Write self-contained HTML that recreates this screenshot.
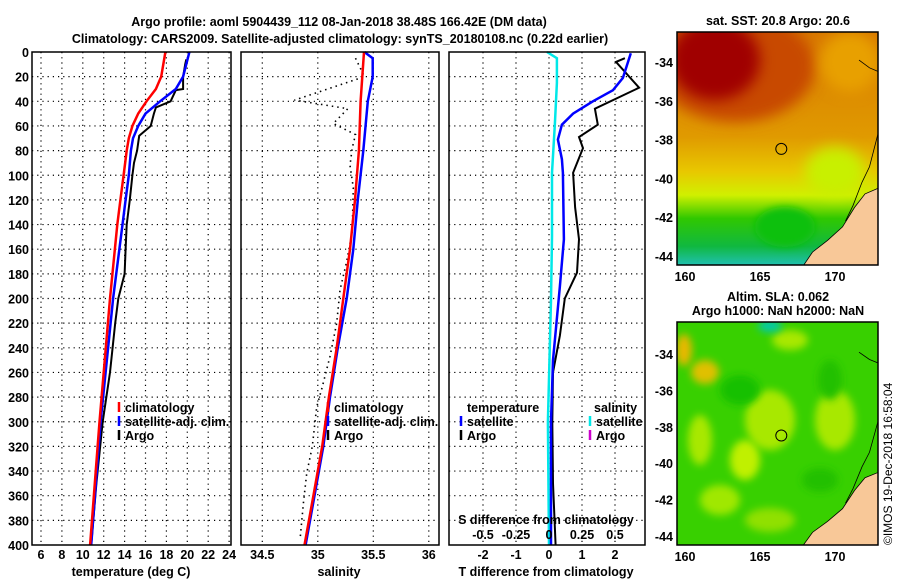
<!DOCTYPE html>
<html><head><meta charset="utf-8"><style>
body{margin:0;background:#fff;}
svg{display:block;font-family:"Liberation Sans",Arial,sans-serif;}
.t{font-weight:bold;font-size:12.5px;fill:#000}
</style></head><body>
<svg id="fig" width="900" height="580" viewBox="0 0 900 580" xmlns="http://www.w3.org/2000/svg">
<defs>
<filter id="bl" x="-50%" y="-50%" width="200%" height="200%"><feGaussianBlur stdDeviation="7"/></filter>
<filter id="bl2" x="-50%" y="-50%" width="200%" height="200%"><feGaussianBlur stdDeviation="4"/></filter>
<clipPath id="c1"><rect x="677" y="32" width="201" height="233"/></clipPath>
<clipPath id="c2"><rect x="677" y="322" width="201" height="223"/></clipPath>
<linearGradient id="sstg" x1="0" y1="0" x2="0" y2="1">
<stop offset="0" stop-color="#d87800"/><stop offset="0.45" stop-color="#e09a00"/>
<stop offset="0.6" stop-color="#e8c800"/><stop offset="0.7" stop-color="#d0f000"/>
<stop offset="0.8" stop-color="#30c800"/><stop offset="0.92" stop-color="#10b840"/>
<stop offset="1" stop-color="#20c0b0"/></linearGradient>
</defs>
<text class="t" x="339" y="26" text-anchor="middle" font-size="14">Argo profile: aoml 5904439_112 08-Jan-2018 38.48S 166.42E (DM data)</text>
<text class="t" x="340" y="43" text-anchor="middle" font-size="14">Climatology: CARS2009. Satellite-adjusted climatology: synTS_20180108.nc (0.22d earlier)</text>
<g id="plots"></g>
<g id="maps"></g>
<text x="892" y="545" transform="rotate(-90 892 545)" font-size="12">©IMOS 19-Dec-2018 16:58:04</text>
</svg>
<script>
// ---- data ----
const depthTicks=[0,20,40,60,80,100,120,140,160,180,200,220,240,260,280,300,320,340,360,380,400];
const tempTicks=[6,8,10,12,14,16,18,20,22,24];
const salTicks=[34.5,35,35.5,36];
const salTickLabels=["34.5","35","35.5","36"];
const dtTicks=[-2,-1,0,1,2];
const dsTickLabels=["-0.5","-0.25","0","0.25","0.5"];
const dsTicks=[-0.5,-0.25,0,0.25,0.5];
const climTDepth=[0,20,30,40,50,60,70,80,100,120,140,200,300,400];
const climT=[17.9,17.5,17.0,16.1,15.3,14.75,14.4,14.2,13.9,13.6,13.3,12.6,11.6,10.7];
const satTDepth=[0,20,30,40,50,60,70,80,100,120,140,200,300,400];
const satT=[20.2,19.6,18.9,17.4,16.0,15.3,14.8,14.6,14.4,14.1,13.8,12.9,11.7,10.8];
const argoDepth=[6,10,20,30,31,40,45,50,60,68,80,90,100,120,140,160,180,200,220,260,300,350,400];
const argoT=[19.9,19.8,19.6,19.6,18.9,18.4,17.0,16.8,16.5,15.4,15.2,14.9,14.75,14.5,14.2,14.1,14.0,13.4,13.1,12.6,11.9,11.3,10.8];
const climSDepth=[0,40,80,120,160,200,240,280,320,360,400];
const climS=[35.416,35.386,35.37,35.335,35.29,35.23,35.17,35.10,35.04,34.96,34.88];
const satSDepth=[0,5,20,40,80,120,160,200,240,280,320,360,400];
const satS=[35.42,35.495,35.495,35.45,35.41,35.36,35.32,35.26,35.18,35.11,35.05,34.97,34.89];
const argoSDepth=[5,20,39,46,58,67,78,92,110,146,170,193,220,247,272,288,320,342,366,396];
const argoS=[35.34,35.42,34.79,35.27,35.14,35.34,35.31,35.29,35.32,35.31,35.26,35.2,35.17,35.11,35.04,34.99,34.95,34.9,34.87,34.84];
const dTDepth=[5,8,29,46,59,69,78,98,126,152,179,200,230,260,300,350,400];
const argoDT=[2.3,2.03,2.73,1.39,1.48,0.91,1.03,0.73,0.79,0.91,0.85,0.48,0.33,0.12,0.1,0.12,0.2];
const satDTDepth=[1,21,31,40,50,59,71,87,98,152,190,250,300,400];
const satDT=[2.48,2.24,1.94,1.33,0.73,0.39,0.27,0.39,0.42,0.45,0.33,0.12,0.06,0.06];
const dSDepth=[0,5,25,58,98,150,201,300,400];
const satDS=[-0.015,0.06,0.06,0.045,0.023,0.023,0.015,-0.008,0.0];
const latTicks=[-34,-36,-38,-40,-42,-44];
const lonTicks=[160,165,170];
const argoLon=[166.42], argoLat=[-38.48];

// ---- scales ----
const Y0=52,Y1=545;
const yD=d=>Y0+d*(Y1-Y0)/400;
const xT=t=>41+(t-6)*10.45;
const xS=s=>262.3+(s-34.5)*111;
const xDT=v=>549+v*33;
const xDS=v=>549+v*132;
const mx=lon=>685+(lon-160)*15;
const my1=lat=>62+(-34-lat)*19.4;
const my2=lat=>354+(-34-lat)*18.2;
const NS="http://www.w3.org/2000/svg";
function mk(tag,attrs,parent){const e=document.createElementNS(NS,tag);for(const k in attrs)e.setAttribute(k,attrs[k]);parent.appendChild(e);return e;}
const P=document.getElementById('plots');

function panel(name,x0,x1){
  const g=mk('g',{},P);
  
  
  mk('rect',{x:x0,y:Y0,width:x1-x0,height:Y1-Y0,fill:'#fff'},g);
  depthTicks.forEach(d=>{if(d>0&&d<400)mk('line',{x1:x0,x2:x1,y1:yD(d),y2:yD(d),stroke:'#000','stroke-width':1.2,'stroke-dasharray':'1.2 4'},g);});
  return g;
}
function vgrid(g,xs){xs.forEach(x=>mk('line',{x1:x,x2:x,y1:Y0,y2:Y1,stroke:'#000','stroke-width':1.2,'stroke-dasharray':'1.2 4'},g));}
function border(g,x0,x1){mk('rect',{x:x0,y:Y0,width:x1-x0,height:Y1-Y0,fill:'none',stroke:'#000','stroke-width':1.5},g);}
function line(g,xs,ds,fx,col,w,name,dash){
  const pts=xs.map((v,i)=>fx(v).toFixed(1)+','+yD(ds[i]).toFixed(1)).join(' ');
  const e=mk('polyline',{points:pts,fill:'none',stroke:col,'stroke-width':w},g);
  if(dash)e.setAttribute('stroke-dasharray',dash);
  
  
}
function txt(g,x,y,s,name,anchor,size){const e=mk('text',{x:x,y:y,class:'t','text-anchor':anchor||'middle'},g);if(size)e.setAttribute('font-size',size);e.textContent=s;
  
  return e;}
function legend(g,x,y,col,label,name){mk('line',{x1:x,x2:x,y1:y-10,y2:y,stroke:col,'stroke-width':2.5},g);txt(g,x+6,y,label,name,'start');}

// panel 1
const g1=panel('temperature-panel',32,231);
vgrid(g1,tempTicks.map(xT));
line(g1,argoT,argoDepth,xT,'#000',2,'argo-temperature-line');
line(g1,satT,satTDepth,xT,'#0000ff',2.5,'satellite-temperature-line');
line(g1,climT,climTDepth,xT,'#ff0000',2.5,'climatology-temperature-line');
border(g1,32,231);
depthTicks.forEach(d=>txt(g1,29,yD(d)+5,String(d),'depth-tick-label','end'));
tempTicks.forEach(t=>txt(g1,xT(t),559,String(t),'temperature-tick-label'));
txt(g1,131,576,'temperature (deg C)','x-axis-title-temperature');
legend(g1,119,412,'#ff0000','climatology','legend-climatology');
legend(g1,119,426,'#0000ff','satellite-adj. clim.','legend-satellite');
legend(g1,119,440,'#000','Argo','legend-argo');

// panel 2
const g2=panel('salinity-panel',241,439);
vgrid(g2,salTicks.map(xS));
line(g2,argoS,argoSDepth,xS,'#000',1.6,'argo-salinity-line','1.5 4');
line(g2,satS,satSDepth,xS,'#0000ff',2.5,'satellite-salinity-line');
line(g2,climS,climSDepth,xS,'#ff0000',2.5,'climatology-salinity-line');
border(g2,241,439);
salTicks.forEach((s,i)=>txt(g2,xS(s),559,salTickLabels[i],'salinity-tick-label'));
txt(g2,339,576,'salinity','x-axis-title-salinity');
legend(g2,328,412,'#ff0000','climatology','legend-climatology-s');
legend(g2,328,426,'#0000ff','satellite-adj. clim.','legend-satellite-s');
legend(g2,328,440,'#000','Argo','legend-argo-s');

// panel 3
const g3=panel('difference-panel',449,645);
vgrid(g3,dtTicks.map(xDT));
line(g3,satDS,dSDepth,xDS,'#00e8e8',2.5,'satellite-salinity-diff-line');
line(g3,argoDT,dTDepth,xDT,'#000',2,'argo-temperature-diff-line');
line(g3,satDT,satDTDepth,xDT,'#0000ff',2.5,'satellite-temperature-diff-line');
border(g3,449,645);
dtTicks.forEach(v=>txt(g3,xDT(v),559,String(v),'t-diff-tick-label'));
dsTicks.forEach((v,i)=>txt(g3,xDS(v),539,dsTickLabels[i],'s-diff-tick-label'));
txt(g3,546,524,'S difference from climatology','s-diff-axis-title');
txt(g3,546,576,'T difference from climatology','t-diff-axis-title');
txt(g3,467,412,'temperature','legend-temperature-header','start');
legend(g3,461,426,'#0000ff','satellite','legend-t-satellite');
legend(g3,461,440,'#000','Argo','legend-t-argo');
txt(g3,594,412,'salinity','legend-salinity-header','start');
legend(g3,590,426,'#00e8e8','satellite','legend-s-satellite');
legend(g3,590,440,'#cc00cc','Argo','legend-s-argo');

// maps
const M=document.getElementById('maps');
const landLon=[172.9,172.0,171.3,170.5,169.5,168.5,167.8];
const landLat=[-40.5,-40.8,-41.5,-42.5,-43.2,-43.8,-44.6];
function map(name,yTop,h,my,clip,isSST,title){
  const g=mk('g',{},M);
  
  
  const c=mk('g',{'clip-path':'url(#'+clip+')'},g);
  if(isSST){
    mk('rect',{x:677,y:yTop,width:201,height:h,fill:'url(#sstg)'},c);
    mk('ellipse',{cx:735,cy:yTop+35,rx:80,ry:55,fill:'#c84800',filter:'url(#bl)'},c);
    mk('ellipse',{cx:715,cy:yTop+28,rx:45,ry:40,fill:'#a00000',filter:'url(#bl)'},c);
    mk('ellipse',{cx:850,cy:yTop+30,rx:30,ry:30,fill:'#e8a000',filter:'url(#bl)'},c);
    mk('ellipse',{cx:785,cy:yTop+195,rx:30,ry:20,fill:'#10c010',filter:'url(#bl2)'},c);
    mk('ellipse',{cx:835,cy:yTop+140,rx:30,ry:25,fill:'#c8f000',filter:'url(#bl)'},c);
  } else {
    mk('rect',{x:677,y:yTop,width:201,height:h,fill:'#38d000'},c);
    [[684,350,8,16,'#e8b800'],[705,372,14,12,'#e0c000'],[790,340,18,10,'#a8e800'],[770,420,25,30,'#a8e800'],[835,420,20,30,'#a8e800'],[745,460,15,20,'#c0f000'],[720,500,20,15,'#a0e800'],[770,520,25,12,'#90e000'],[830,380,12,20,'#20c000'],[740,390,20,15,'#18c000'],[770,326,12,6,'#00c8b0'],[700,440,12,25,'#a8e800'],[820,480,18,12,'#20c000']].forEach(b=>mk('ellipse',{cx:b[0],cy:b[1],rx:b[2],ry:b[3],fill:b[4],filter:'url(#bl2)'},c));
  }
  let pts=landLon.map((l,i)=>mx(l)+','+my(landLat[i])).join(' ')+' 878,'+(yTop+h)+' 878,'+my(-40.5);
  mk('polygon',{points:pts,fill:'#f8c898',stroke:'#000','stroke-width':0.8},c);
  mk('polyline',{points:[mx(172.9)+','+my(-37.6),mx(172.3)+','+my(-39.4),mx(171.8)+','+my(-40.2),mx(171.2)+','+my(-41.4),mx(170.7)+','+my(-42.2)].join(' '),fill:'none',stroke:'#000','stroke-width':0.8},c);
  mk('polyline',{points:[mx(171.6)+','+my(-33.9),mx(172.3)+','+my(-34.3),mx(172.9)+','+my(-34.5)].join(' '),fill:'none',stroke:'#000','stroke-width':0.8},c);
  const ci=mk('circle',{cx:mx(argoLon[0]),cy:my(argoLat[0]),r:5.5,fill:'none',stroke:'#000','stroke-width':1},g);
  
  
  mk('rect',{x:677,y:yTop,width:201,height:h,fill:'none',stroke:'#000','stroke-width':1.5},g);
  latTicks.forEach(l=>txt(g,673,my(l)+5,String(l),'latitude-tick-label','end'));
  lonTicks.forEach(l=>txt(g,mx(l),yTop+h+16,String(l),'longitude-tick-label','middle',13));
  title.forEach((t,i)=>txt(g,778,yTop-(title.length-1-i)*14-7,t,'map-title','middle'));
}
map('sst-map',32,233,my1,'c1',true,['sat. SST: 20.8 Argo: 20.6']);
map('sla-map',322,223,my2,'c2',false,['Altim. SLA: 0.062','Argo h1000: NaN h2000: NaN']);
</script>
</body></html>
